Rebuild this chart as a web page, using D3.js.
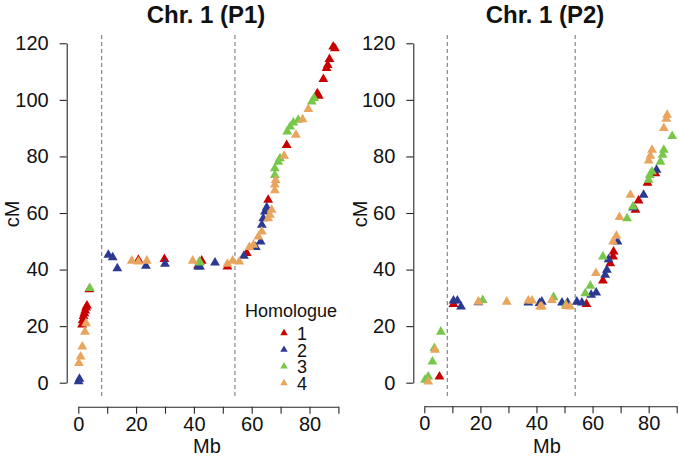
<!DOCTYPE html>
<html>
<head>
<meta charset="utf-8">
<script src="https://cdn.jsdelivr.net/npm/d3@7"></script>
<style>
  html, body { margin: 0; padding: 0; background: #ffffff; }
  svg { display: block; font-family: "Liberation Sans", Arial, Helvetica, sans-serif; }
</style>
</head>
<body>
<svg id="chart" width="679" height="461"></svg>
<script>
// ---------------- DATA ----------------
const homologues = ["1", "2", "3", "4"];
const colors = ["#c80000", "#2b3990", "#77c84a", "#e9a55e"];
const panelTitles = ["Chr. 1 (P1)", "Chr. 1 (P2)"];
const xTicks = [0, 10, 20, 30, 40, 50, 60, 70, 80, 90];
const xTickLabels = [0, 20, 40, 60, 80];
const yTicks = [0, 20, 40, 60, 80, 100, 120];
const centromereP1 = [8.1, 54.2];
const centromereP2 = [8.2, 53.8];

// P1 homologues: [Mb, cM]
const p1h1 = [[1.3,20.5],[1.5,22],[1.8,23.5],[2.1,24.5],[2.4,25.5],[2.7,26.5],[3.0,27.2],[3.8,33],
  [20.8,43.4],[29.8,43.7],[41.5,41.5],[42.7,43.1],[51.6,41.0],[58.3,45.8],[65.7,64.6],[72.1,84],
  [82.7,102.3],[83.2,101.4],[84.8,107.3],[85.9,111.2],[86.3,112.3],[86.9,114.4],[88.2,118.8],[88.8,118.2]];
const p1h2 = [[0.1,0.5],[0.4,1.3],[10.4,45.2],[11.9,44.3],[13.5,40.4],[23.4,41.3],[30.0,42.0],
  [41.5,41],[42.1,41],[47.3,42.4],[57.3,44.8],[61.4,47.9],[63.1,49.9],[63.5,55.8],[64,58.1],[64.6,60.5],[65.2,62]];
const p1h3 = [[4.0,33.4],[41.9,42.8],[42.1,42.4],[68,73.4],[68,75.8],[69.2,78.1],[69.8,79.3],
  [72.3,88.8],[73.3,90.5],[74.4,91.9],[76.1,92.9],[80.8,99.4],[81.6,100.6]];
const p1h4 = [[0.2,6.9],[0.8,9.2],[1.4,12.7],[2.3,18],[2.7,21],[18.5,43.1],[20.8,42.8],[23.7,43.1],
  [39.6,43.1],[51.6,42],[53.4,43.1],[55.7,42.8],[59.2,47.9],[60.6,48.7],[62.3,51.6],[63.5,53.4],
  [65.7,58.1],[66.3,59.3],[66.9,61.1],[68,68],[68,70],[68.3,71.6],[71.2,80.2],[75.3,87.6],[77.6,93.1],[79.6,96.7]];

// P2 homologues: [Mb, cM]
const p2h1 = [[5.4,2.1],[10.4,27.8],[57.8,27.8],[63.7,36.1],[66.3,42.2],[67.3,44.6],[67.5,46.3],
  [75.3,61.1],[76.4,64.4],[79.6,70.6],[82.4,74.0]];
const p2h2 = [[10.4,29],[11.8,29],[13.1,26.9],[19.3,28.4],[37.1,28.3],[41.1,28.1],[41.9,28.6],[49.1,28.3],
  [51.1,28.3],[54.4,28.6],[56.2,28.3],[59.5,31],[61.3,31.8],[64.5,38.1],[65.1,39.9],[65.7,43.6],
  [68.9,49.9],[74.5,61.9],[78.2,66.4],[82.8,75.2]];
const p2h3 = [[0.25,1.0],[1.4,2.1],[2.9,7.4],[3.6,12.2],[5.9,18.0],[20.8,29.2],[46.1,30.2],[50.5,27.5],
  [57.4,31.6],[59.2,34.2],[63.7,44.6],[72.3,58.1],[74.4,62.2],[80,71.7],[80.4,73.4],[81.2,74.6],
  [84.2,78.1],[85,80.5],[85.4,82.3],[88.4,87.2]];
const p2h4 = [[1.4,0.4],[3.8,11.6],[19.3,28.6],[29.4,28.6],[37.1,29],[38.4,29],[41.3,26.9],[41.9,26.9],
  [45.5,29.2],[50.6,27.1],[52,26.9],[61.2,38.7],[67.3,49.9],[68.5,51.9],[69.6,58.5],[73.5,66.4],
  [80,78.5],[80.6,80.2],[81.2,82.3],[85.4,90],[86.3,93.3],[86.6,94.7]];

// ---------------- LAYOUT ----------------
const panels = [
  { title: panelTitles[0], series: [p1h1, p1h2, p1h3, p1h4], centro: centromereP1,
    xr: [78.3, 338.4], yAxisX: 66.7, xAxisY: 406.7, titleX: 206, cmX: 19, mbX: 207, legend: true },
  { title: panelTitles[1], series: [p2h1, p2h2, p2h3, p2h4], centro: centromereP2,
    xr: [424.3, 676.7], yAxisX: 413.3, xAxisY: 406.3, titleX: 545, cmX: 367, mbX: 547, legend: false }
];
const yRange = [382.7, 43.3];

const svg = d3.select("#chart");
const tri = d3.symbol().type(d3.symbolTriangle).size(42);
const triLegend = d3.symbol().type(d3.symbolTriangle).size(24);

panels.forEach(p => {
  const x = d3.scaleLinear().domain([0, 90]).range(p.xr);
  const y = d3.scaleLinear().domain([0, 120]).range(yRange);
  const g = svg.append("g");

  // centromere dashed lines
  g.selectAll("line.centro").data(p.centro).enter().append("line")
    .attr("x1", d => x(d)).attr("x2", d => x(d))
    .attr("y1", 35).attr("y2", 397)
    .attr("stroke", "#7a7a7a").attr("stroke-width", 1.1)
    .attr("stroke-dasharray", "4,3");

  // axes
  const yAxis = d3.axisLeft(y).tickValues(yTicks).tickSize(7).tickSizeOuter(0).tickPadding(11)
    .tickFormat(d3.format("d"));
  const ya = g.append("g").attr("transform", `translate(${p.yAxisX},0)`).call(yAxis);
  const xAxis = d3.axisBottom(x).tickValues(xTicks).tickSize(7).tickSizeOuter(0).tickPadding(3)
    .tickFormat(d => xTickLabels.includes(d) ? String(d) : "");
  const xa = g.append("g").attr("transform", `translate(0,${p.xAxisY})`).call(xAxis);
  [ya, xa].forEach(a => {
    a.selectAll("path.domain").attr("stroke", "#262626").attr("stroke-width", 1.1);
    a.selectAll(".tick line").attr("stroke", "#262626").attr("stroke-width", 1.1);
    a.selectAll(".tick text").attr("fill", "#111").style("font-size", "20px")
      .style("font-family", "'Liberation Sans', Arial, sans-serif");
  });

  // points
  p.series.forEach((s, i) => {
    g.append("g").selectAll("path").data(s).enter().append("path")
      .attr("d", tri)
      .attr("transform", d => `translate(${x(d[0])},${y(d[1])})`)
      .attr("fill", colors[i]);
  });

  // title
  g.append("text").attr("x", p.titleX).attr("y", 23).attr("text-anchor", "middle")
    .style("font-size", "24px").style("font-weight", "bold").attr("fill", "#111").text(p.title);
  // axis titles
  g.append("text").attr("transform", `translate(${p.cmX},214) rotate(-90)`).attr("text-anchor", "middle")
    .style("font-size", "20px").attr("fill", "#111").text("cM");
  g.append("text").attr("x", p.mbX).attr("y", 453).attr("text-anchor", "middle")
    .style("font-size", "20px").attr("fill", "#111").text("Mb");

  if (p.legend) {
    const lg = g.append("g");
    lg.append("text").attr("x", 291).attr("y", 316.7).attr("text-anchor", "middle")
      .style("font-size", "18px").attr("fill", "#111").text("Homologue");
    const baselines = [340, 356.7, 373.3, 390];
    homologues.forEach((h, i) => {
      lg.append("path").attr("d", triLegend)
        .attr("transform", `translate(284,${baselines[i] - 7})`).attr("fill", colors[i]);
      lg.append("text").attr("x", 297).attr("y", baselines[i])
        .style("font-size", "18px").attr("fill", "#111").text(h);
    });
  }
});
</script>
</body>
</html>
